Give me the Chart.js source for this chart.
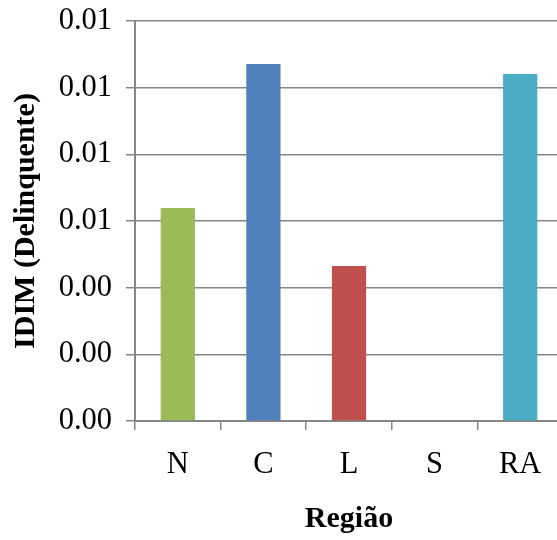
<!DOCTYPE html>
<html>
<head>
<meta charset="utf-8">
<script src="https://cdn.jsdelivr.net/npm/chart.js@4/dist/chart.umd.min.js"></script>
<style>
  html, body { margin: 0; padding: 0; background: #fff; overflow: hidden; }
  #wrap { width: 563px; height: 540px; }
</style>
</head>
<body>
<div id="wrap"><canvas id="chart-bar" width="563" height="540"></canvas></div>
<script>
const regioes = ['N', 'C', 'L', 'S', 'RA'];
const idim = [0.00639, 0.01071, 0.00465, 0, 0.01041];
const barColors = ['#9BBB59', '#4F81BD', '#C0504D', '#8064A2', '#4BACC6'];
const yTicks = [0, 0.002, 0.004, 0.006, 0.008, 0.010, 0.012];

const GRID = '#868686';
const FONT = "'Liberation Serif', 'Times New Roman', serif";

var ctx = document.getElementById('chart-bar');
var myChart = new Chart(ctx, {
    type: 'bar',
    data: {
        labels: regioes,
        datasets: [{
            label: 'IDIM (Delinquente)',
            data: idim,
            backgroundColor: barColors,
            borderWidth: 0,
            barPercentage: 0.4,
            categoryPercentage: 1.0
        }]
    },
    options: {
        responsive: false,
        animation: false,
        layout: {
            padding: { top: 21, right: 0, bottom: 0, left: 0 }
        },
        plugins: {
            legend: { display: false },
            tooltip: { enabled: false }
        },
        scales: {
            y: {
                min: 0,
                max: 0.012,
                afterBuildTicks: (scale) => {
                    scale.ticks = yTicks.map(v => ({ value: v }));
                },
                afterFit: (scale) => {
                    scale.width = 135;
                    scale.paddingTop = 0;
                    scale.paddingBottom = 0;
                },
                ticks: {
                    color: '#000',
                    font: { family: FONT, size: 30.5 },
                    padding: 14,
                    callback: (value) => Number(value).toFixed(2)
                },
                grid: {
                    color: GRID,
                    lineWidth: 1.5,
                    tickLength: 9,
                    drawTicks: true
                },
                border: { display: true, color: GRID, width: 2 },
                title: {
                    display: true,
                    text: 'IDIM (Delinquente)',
                    color: '#000',
                    font: { family: FONT, size: 30, weight: 'bold' },
                    padding: { top: 8, bottom: 0 }
                }
            },
            x: {
                afterFit: (scale) => {
                    scale.height = 119;
                    scale.paddingLeft = 0;
                    scale.paddingRight = 0;
                },
                ticks: {
                    color: '#000',
                    font: { family: FONT, size: 30.5 },
                    padding: 17,
                    maxRotation: 0
                },
                grid: {
                    offset: true,
                    drawOnChartArea: false,
                    drawTicks: true,
                    tickLength: 9,
                    color: GRID,
                    lineWidth: 1.5
                },
                border: { display: true, color: GRID, width: 2 },
                title: {
                    display: true,
                    text: 'Região',
                    color: '#000',
                    font: { family: FONT, size: 30, weight: 'bold' },
                    padding: { top: 0, bottom: 3 }
                }
            }
        }
    }
});
</script>
</body>
</html>
